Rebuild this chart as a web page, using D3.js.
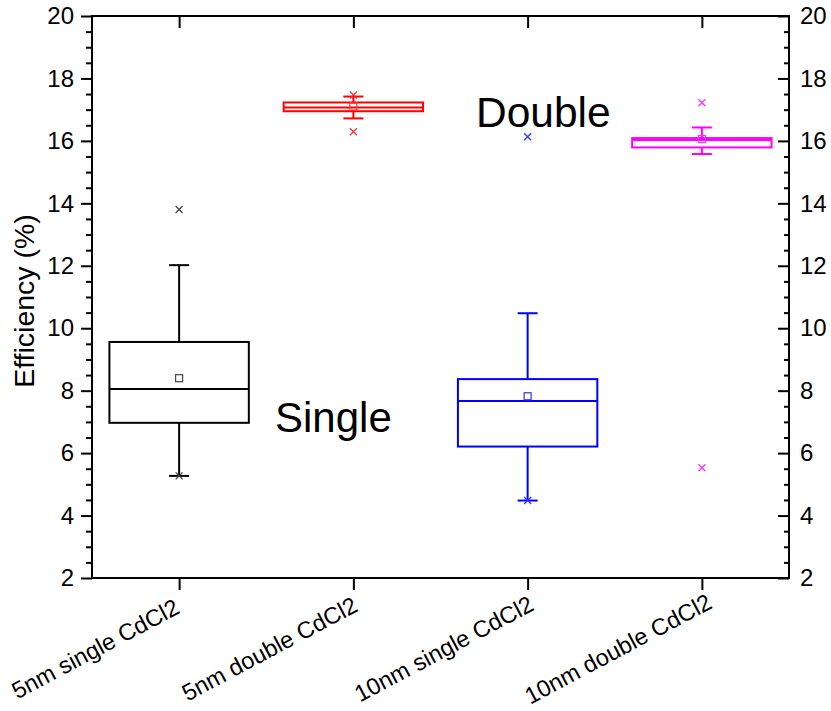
<!DOCTYPE html>
<html>
<head>
<meta charset="utf-8">
<script src="https://cdn.jsdelivr.net/npm/d3@7/dist/d3.min.js"></script>
<style>
  html, body { margin: 0; padding: 0; background: #fff; }
  svg { display: block; font-family: "Liberation Sans", Arial, sans-serif; }
</style>
</head>
<body>
<svg id="chart" width="831" height="711"></svg>
<script>
// Efficiency box plots per CdCl2 treatment
const categories = ["5nm single CdCl2", "5nm double CdCl2", "10nm single CdCl2", "10nm double CdCl2"];
const q1Values      = [6.97, 16.95, 6.21, 15.79];
const medianValues  = [8.05, 17.07, 7.67, 16.03];
const q3Values      = [9.56, 17.23, 8.37, 16.09];
const whiskerLow    = [5.27, 16.72, 4.48, 15.58];
const whiskerHigh   = [12.02, 17.42, 10.48, 16.43];
const meanValues    = [8.40, 17.10, 7.82, 16.06];
const minValues     = [5.27, 16.29, 4.48, 5.53];
const maxValues     = [13.80, 17.47, 16.13, 17.22];
const boxColors     = ["#000000", "#ff0000", "#0000ff", "#ff00ff"];
const markerColors  = ["#444444", "#ff3030", "#3030ff", "#ff30ff"];
const yMajorTicks   = [2, 4, 6, 8, 10, 12, 14, 16, 18, 20];
const groupLabels   = ["Double", "Single"];

const svg = d3.select("#chart");
const plotLeft = 92, plotRight = 789, plotTop = 16, plotBottom = 578;

const x = d3.scalePoint().domain(categories).range([plotLeft, plotRight]).padding(0.5);
const step = x.step();
const boxW = step * 0.8;
const y = d3.scaleLinear().domain([2, 20]).range([plotBottom, plotTop]);

const minorTicks = d3.range(2, 20.01, 0.5).filter(v => Math.abs(v % 2) > 1e-6);

function styleAxis(g) {
  g.select(".domain").remove();
  g.selectAll("line").attr("stroke", "#000").attr("stroke-width", 2);
  g.selectAll("text").attr("fill", "#000").style("font-size", "24px")
    .style("font-family", '"Liberation Sans", Arial, sans-serif');
}

// Left axis: labels, outward ticks
svg.append("g").attr("transform", `translate(${plotLeft},0)`)
  .call(d3.axisLeft(y).tickValues(yMajorTicks).tickSize(11).tickPadding(7).tickFormat(d3.format("d")))
  .call(styleAxis);
svg.append("g").attr("transform", `translate(${plotLeft},0)`)
  .call(d3.axisLeft(y).tickValues(minorTicks).tickSize(6).tickFormat(""))
  .call(styleAxis);

// Right axis: labels, inward ticks
svg.append("g").attr("transform", `translate(${plotRight},0)`)
  .call(d3.axisRight(y).tickValues(yMajorTicks).tickSize(-11).tickPadding(11).tickFormat(d3.format("d")))
  .call(styleAxis);
svg.append("g").attr("transform", `translate(${plotRight},0)`)
  .call(d3.axisRight(y).tickValues(minorTicks).tickSize(-5).tickFormat(""))
  .call(styleAxis);

// Bottom axis ticks (outward) and top axis ticks (inward)
svg.append("g").attr("transform", `translate(0,${plotBottom})`)
  .call(d3.axisBottom(x).tickSize(12).tickFormat(""))
  .call(styleAxis);
svg.append("g").attr("transform", `translate(0,${plotTop})`)
  .call(d3.axisTop(x).tickSize(-12).tickFormat(""))
  .call(styleAxis);

// Frame
svg.append("rect")
  .attr("x", plotLeft).attr("y", plotTop)
  .attr("width", plotRight - plotLeft).attr("height", plotBottom - plotTop)
  .attr("fill", "none").attr("stroke", "#000").attr("stroke-width", 2);

// Rotated category labels, centred below-left of each tick
svg.append("g").selectAll("text")
  .data(categories)
  .join("text")
  .attr("transform", d => `translate(${x(d) - 80},656) rotate(-28)`)
  .attr("text-anchor", "middle")
  .style("font-size", "23.5px")
  .attr("fill", "#000")
  .text(d => d);

// Y axis title
svg.append("text")
  .attr("transform", "translate(34,301) rotate(-90)")
  .attr("text-anchor", "middle")
  .style("font-size", "28.5px")
  .attr("fill", "#000")
  .text("Efficiency (%)");

// Boxes
const data = categories.map((c, i) => ({
  c, q1: q1Values[i], med: medianValues[i], q3: q3Values[i],
  lo: whiskerLow[i], hi: whiskerHigh[i], mean: meanValues[i],
  min: minValues[i], max: maxValues[i],
  color: boxColors[i], mcolor: markerColors[i]
}));

const capW = 20;
const boxes = svg.append("g").selectAll("g").data(data).join("g")
  .attr("transform", d => `translate(${x(d.c)},0)`);

// whiskers
boxes.append("line").attr("x1", 0).attr("x2", 0)
  .attr("y1", d => y(d.q3)).attr("y2", d => y(d.hi))
  .attr("stroke", d => d.color).attr("stroke-width", 2);
boxes.append("line").attr("x1", 0).attr("x2", 0)
  .attr("y1", d => y(d.q1)).attr("y2", d => y(d.lo))
  .attr("stroke", d => d.color).attr("stroke-width", 2);
boxes.append("line").attr("x1", -capW / 2).attr("x2", capW / 2)
  .attr("y1", d => y(d.hi)).attr("y2", d => y(d.hi))
  .attr("stroke", d => d.color).attr("stroke-width", 2);
boxes.append("line").attr("x1", -capW / 2).attr("x2", capW / 2)
  .attr("y1", d => y(d.lo)).attr("y2", d => y(d.lo))
  .attr("stroke", d => d.color).attr("stroke-width", 2);

// box body
boxes.append("rect")
  .attr("x", -boxW / 2).attr("width", boxW)
  .attr("y", d => y(d.q3)).attr("height", d => y(d.q1) - y(d.q3))
  .attr("fill", "none").attr("stroke", d => d.color).attr("stroke-width", 2);
boxes.append("line").attr("x1", -boxW / 2).attr("x2", boxW / 2)
  .attr("y1", d => y(d.med)).attr("y2", d => y(d.med))
  .attr("stroke", d => d.color).attr("stroke-width", 2);

// mean square
boxes.append("rect")
  .attr("x", -3.5).attr("width", 7)
  .attr("y", d => y(d.mean) - 3.5).attr("height", 7)
  .attr("fill", "none").attr("stroke", d => d.mcolor).attr("stroke-width", 1.2);

// min / max cross markers
const cross = 3.5;
function drawCross(sel, key) {
  sel.append("path")
    .attr("d", d => {
      const cy = y(d[key]);
      return `M${-cross},${cy - cross}L${cross},${cy + cross}M${-cross},${cy + cross}L${cross},${cy - cross}`;
    })
    .attr("stroke", d => d.mcolor).attr("stroke-width", 1.3).attr("fill", "none");
}
drawCross(boxes, "min");
drawCross(boxes, "max");

// Group annotations
const labelPos = { Double: [476, 126.5, "42.5px"], Single: [275, 431.5, "42px"] };
svg.append("g").selectAll("text").data(groupLabels).join("text")
  .attr("x", d => labelPos[d][0])
  .attr("y", d => labelPos[d][1])
  .style("font-size", d => labelPos[d][2])
  .attr("fill", "#000")
  .text(d => d);
</script>
</body>
</html>
